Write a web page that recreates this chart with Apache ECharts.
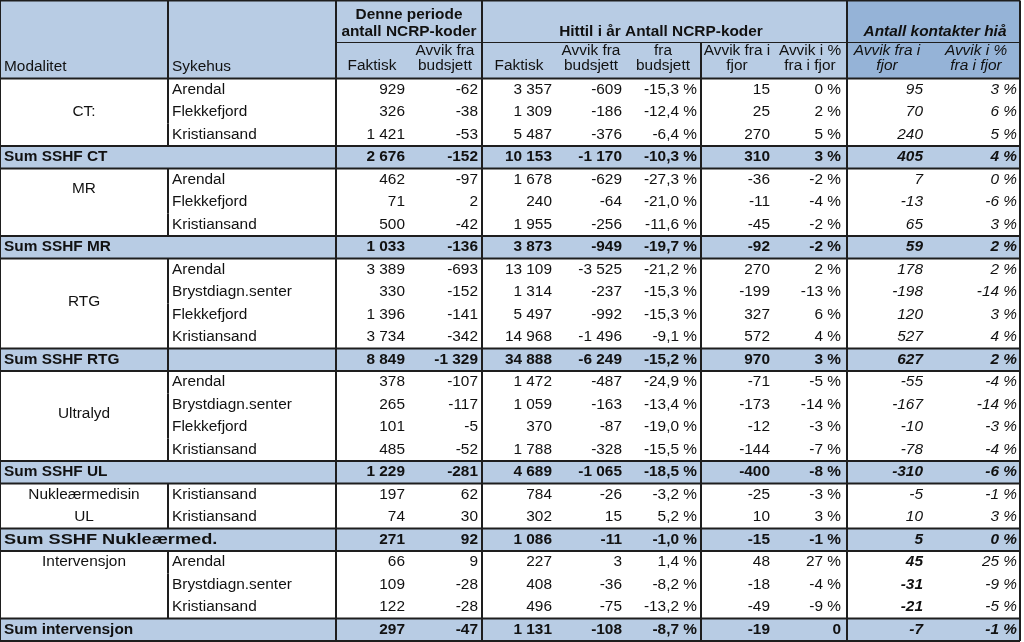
<!DOCTYPE html>
<html><head><meta charset="utf-8">
<script src="https://cdn.jsdelivr.net/npm/echarts@6/dist/echarts.min.js"></script>
<style>html,body{margin:0;padding:0;background:#fff}#c{width:1024px;height:642px}</style>
</head><body><div id="c"></div>
<script>
// ---------------- DATA ----------------
const rowLabel = ['Arendal','Flekkefjord','Kristiansand','Sum SSHF CT',
  'Arendal','Flekkefjord','Kristiansand','Sum SSHF MR',
  'Arendal','Brystdiagn.senter','Flekkefjord','Kristiansand','Sum SSHF RTG',
  'Arendal','Brystdiagn.senter','Flekkefjord','Kristiansand','Sum SSHF UL',
  'Kristiansand','Kristiansand','Sum SSHF Nukleærmed.',
  'Arendal','Brystdiagn.senter','Kristiansand','Sum intervensjon'];
const isSumRow = [0,0,0,1, 0,0,0,1, 0,0,0,0,1, 0,0,0,0,1, 0,0,1, 0,0,0,1];
const modalitet = ['CT:','MR','RTG','Ultralyd','Nukleærmedisin','UL','Intervensjon'];

const faktisk        = [929,326,1421,2676, 462,71,500,1033, 3389,330,1396,3734,8849, 378,265,101,485,1229, 197,74,271, 66,109,122,297];
const avvikBudsjett  = [-62,-38,-53,-152, -97,2,-42,-136, -693,-152,-141,-342,-1329, -107,-117,-5,-52,-281, 62,30,92, 9,-28,-28,-47];
const hittilFaktisk  = [3357,1309,5487,10153, 1678,240,1955,3873, 13109,1314,5497,14968,34888, 1472,1059,370,1788,4689, 784,302,1086, 227,408,496,1131];
const hittilAvvik    = [-609,-186,-376,-1170, -629,-64,-256,-949, -3525,-237,-992,-1496,-6249, -487,-163,-87,-328,-1065, -26,15,-11, 3,-36,-75,-108];
const hittilAvvikPst = [-15.3,-12.4,-6.4,-10.3, -27.3,-21.0,-11.6,-19.7, -21.2,-15.3,-15.3,-9.1,-15.2, -24.9,-13.4,-19.0,-15.5,-18.5, -3.2,5.2,-1.0, 1.4,-8.2,-13.2,-8.7];
const avvikFjor      = [15,25,270,310, -36,-11,-45,-92, 270,-199,327,572,970, -71,-173,-12,-144,-400, -25,10,-15, 48,-18,-49,-19];
const avvikFjorPst   = [0,2,5,3, -2,-4,-2,-2, 2,-13,6,4,3, -5,-14,-3,-7,-8, -3,3,-1, 27,-4,-9,'0'];
const kontaktAvvik   = [95,70,240,405, 7,-13,65,59, 178,-198,120,527,627, -55,-167,-10,-78,-310, -5,10,5, 45,-31,-21,-7];
const kontaktAvvikPst= [3,6,5,4, 0,-6,3,2, 2,-14,3,4,2, -4,-14,-3,-4,-6, -1,3,0, 25,-9,-5,-1];

const headerLeft   = ['Modalitet','Sykehus'];
const groupHeaders = ['Denne periode\nantall NCRP-koder','Hittil i år Antall NCRP-koder','Antall kontakter hiå'];
const columnHeaders = ['Faktisk','Avvik fra\nbudsjett','Faktisk','Avvik fra\nbudsjett','fra\nbudsjett','Avvik fra i\nfjor','Avvik i %\nfra i fjor','Avvik fra i\nfjor','Avvik i %\nfra i fjor'];

// ---------------- LAYOUT / STYLE ----------------
const W = 1020;
const HEAD = 78/22.5;       // header height in row units
const HEAD2 = 36/22.5;      // second header row height in row units
const NROWS = rowLabel.length;
const modalitetRow = [1.5, 4.9, 9.95, 14.9, 18.5, 19.5, 21.5];
const valueRight = [405, 478, 552, 622, 697, 770, 841, 923, 1017];
const colHeadX   = [372, 445, 519, 591, 663, 737, 810, 887, 976];
const groupHeadX = [409, 661, 935];
const groupHeadY = [-2.44, -2.04, -2.04];
const boldKontaktRows = [21,22,23];
const split168Rows = [12];
const labelStretch = {20: 1.3};
const C_HEAD = '#b8cce4', C_HEAD2 = '#95b3d7', C_LINE = '#1e1e1e', C_TXT = '#111';
const FONT = '"Liberation Sans", Arial, sans-serif';
const SX = 1.1;

function fmtInt(n){ const s = Math.abs(n).toString().replace(/\B(?=(\d{3})+(?!\d))/g,' '); return (n<0?'-':'')+s; }
function fmtPct1(v){ return v.toFixed(1).replace('.',',')+' %'; }
function fmtPct0(v){ return typeof v === 'string' ? v : v+' %'; }

function txt(x, y, s, o){
  o = o || {};
  return {type:'text', x:x, y:y, scaleX:o.sx||SX, silent:true,
    style:{text:s, x:0, y:0, fill:C_TXT, fontFamily:FONT, fontSize:14,
      fontWeight:o.bold?'bold':'normal', fontStyle:o.italic?'italic':'normal',
      align:o.align||'left', verticalAlign:'middle', lineHeight:o.lh||16}};
}

// line segments (axis units)
const segs = [];
segs.push([0,-HEAD,W,-HEAD,2]);
segs.push([336,-HEAD2,W,-HEAD2,1.2]);
segs.push([0,0,W,0,2]);
[168,336,482,847].forEach(x=>segs.push([x,-HEAD,x,0,2]));
segs.push([701,-HEAD2,701,0,2]);
[0,W].forEach(x=>segs.push([x,-HEAD,x,NROWS,2]));
[336,482,701,847].forEach(x=>segs.push([x,0,x,NROWS,2]));
for (let i=0;i<NROWS;i++){
  if (!isSumRow[i] || split168Rows.includes(i)) segs.push([168,i,168,i+1,2]);
  if (isSumRow[i]) { segs.push([0,i,W,i,2]); segs.push([0,i+1,W,i+1,2]); }
}

const chart = echarts.init(document.getElementById('c'), null, {renderer:'canvas'});
chart.setOption({
  animation:false,
  grid:{left:0, top:0.5, width:W, height:640.5},
  xAxis:{type:'value', min:0, max:W, show:false},
  yAxis:{type:'value', min:-HEAD, max:NROWS, inverse:true, show:false},
  series:[
    { // header
      type:'custom', z:1, silent:true,
      data:[[0]],
      renderItem:function(params, api){
        const X = v=>api.coord([v,0])[0], Y = v=>api.coord([0,v])[1];
        const ch = [];
        ch.push({type:'rect', shape:{x:X(0), y:Y(-HEAD), width:X(847)-X(0), height:Y(0)-Y(-HEAD)}, style:{fill:C_HEAD}});
        ch.push({type:'rect', shape:{x:X(847), y:Y(-HEAD), width:X(W)-X(847), height:Y(0)-Y(-HEAD)}, style:{fill:C_HEAD2}});
        ch.push(txt(X(4), Y(-0.52), headerLeft[0]));
        ch.push(txt(X(172), Y(-0.52), headerLeft[1]));
        groupHeaders.forEach((t,k)=>ch.push(txt(X(groupHeadX[k]), Y(groupHeadY[k]), t, {align:'center', bold:true, italic:k===2, lh:17})));
        columnHeaders.forEach((t,k)=>{
          const two = t.indexOf('\n')>=0;
          ch.push(txt(X(colHeadX[k]), Y(two?-0.89:-0.55), t, {align:'center', italic:k>=7, lh:15}));
        });
        return {type:'group', children:ch};
      }
    },
    { // body rows
      type:'custom', z:2, silent:true,
      data:rowLabel.map((_,i)=>[i]),
      renderItem:function(params, api){
        const i = api.value(0);
        const X = v=>api.coord([v,0])[0], Y = v=>api.coord([0,v])[1];
        const top = Y(i), bot = Y(i+1), cy = (top+bot)/2;
        const sum = isSumRow[i]===1;
        const ch = [];
        if (sum) ch.push({type:'rect', shape:{x:X(0), y:top, width:X(W)-X(0), height:bot-top}, style:{fill:C_HEAD}});
        ch.push(txt(X(sum?4:172), cy, rowLabel[i], {bold:sum, sx:labelStretch[i]}));
        const vals = [fmtInt(faktisk[i]), fmtInt(avvikBudsjett[i]), fmtInt(hittilFaktisk[i]), fmtInt(hittilAvvik[i]),
          fmtPct1(hittilAvvikPst[i]), fmtInt(avvikFjor[i]), fmtPct0(avvikFjorPst[i]), fmtInt(kontaktAvvik[i]), fmtPct0(kontaktAvvikPst[i])];
        vals.forEach((s,k)=>ch.push(txt(X(valueRight[k]), cy, s, {align:'right', bold: sum || (k===7 && boldKontaktRows.includes(i)), italic:k>=7})));
        return {type:'group', children:ch};
      }
    },
    { // modality labels
      type:'custom', z:3, silent:true,
      data:modalitet.map((_,k)=>[k]),
      renderItem:function(params, api){
        const k = api.value(0);
        const p = api.coord([84, modalitetRow[k]]);
        return txt(p[0], p[1], modalitet[k], {align:'center'});
      }
    },
    { // grid lines
      type:'custom', z:4, silent:true,
      data:segs,
      renderItem:function(params, api){
        const a = api.coord([api.value(0), api.value(1)]), b = api.coord([api.value(2), api.value(3)]);
        return {type:'line', shape:{x1:a[0], y1:a[1], x2:b[0], y2:b[1]}, style:{stroke:C_LINE, lineWidth:api.value(4)}};
      }
    }
  ]
});
</script></body></html>
